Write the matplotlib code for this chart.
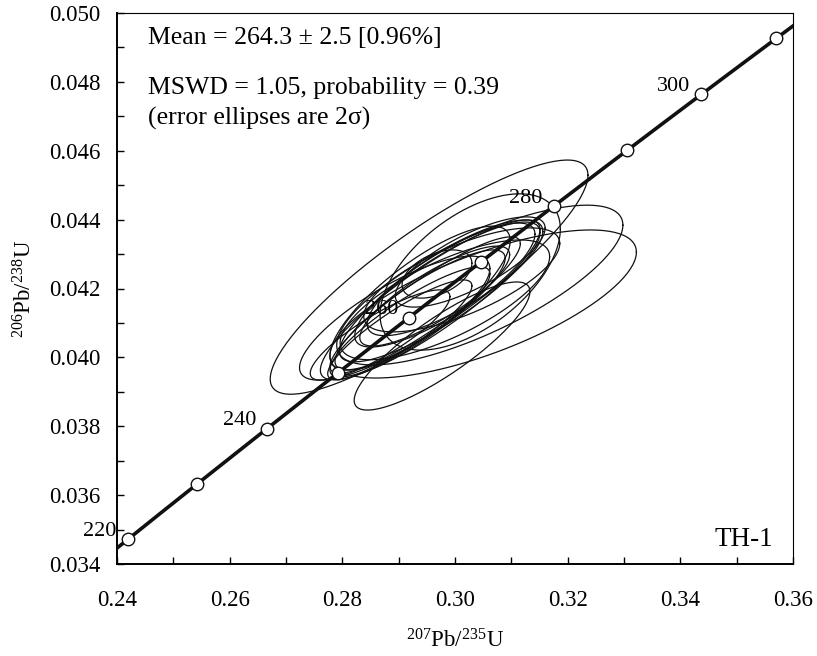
import numpy as np
import matplotlib
matplotlib.use('Agg')
import matplotlib.pyplot as plt
from matplotlib.ticker import MultipleLocator, FormatStrFormatter

plt.rcParams['font.family'] = ['Liberation Serif', 'DejaVu Serif']
plt.rcParams['mathtext.fontset'] = 'custom'
plt.rcParams['mathtext.rm'] = 'Liberation Serif'
plt.rcParams['mathtext.it'] = 'Liberation Serif:italic'

# ── Decay constants (Steiger & Jäger) ─────────────────────────────────────────
L238 = 1.55125e-10
L235 = 9.8485e-10

# ── Concordia age markers [Ma] ────────────────────────────────────────────────
marker_ages = [220, 230, 240, 250, 260, 270, 280, 290, 300, 310]
label_ages = [220, 240, 260, 280, 300]

# ── Spot analyses: 207Pb/235U, 206Pb/238U, 2-sigma errors, error correlation ─
x_ratio = [0.2954, 0.3050, 0.2977, 0.3044, 0.2956, 0.2973, 0.2947, 0.2982,
           0.2938, 0.3000, 0.2964, 0.2968, 0.2920, 0.3012, 0.2902, 0.2893,
           0.3027, 0.2982, 0.2938, 0.2867, 0.3027]
y_ratio = [0.04233, 0.04155, 0.04033, 0.04210, 0.04167, 0.04190, 0.04152, 0.04210,
           0.04138, 0.04231, 0.04178, 0.04242, 0.04103, 0.04225, 0.04080, 0.04114,
           0.04277, 0.04167, 0.04172, 0.04065, 0.04248]
x_err2s = [0.0282, 0.0272, 0.0156, 0.0254, 0.0195, 0.0178, 0.0169, 0.0160,
           0.0151, 0.0156, 0.0133, 0.0062, 0.0142, 0.0174, 0.0128, 0.0169,
           0.0133, 0.0186, 0.0160, 0.0124, 0.0160]
y_err2s = [0.00340, 0.00215, 0.00186, 0.00232, 0.00232, 0.00203, 0.00198, 0.00180,
           0.00174, 0.00168, 0.00145, 0.00070, 0.00160, 0.00151, 0.00145, 0.00180,
           0.00131, 0.00174, 0.00209, 0.00131, 0.00227]
rho = [0.87, 0.70, 0.85, 0.75, 0.88, 0.85, 0.90, 0.82,
       0.86, 0.80, 0.83, 0.45, 0.87, 0.70, 0.88, 0.80,
       0.75, 0.72, 0.80, 0.85, 0.55]


def concordia(t_ma):
    t = np.asarray(t_ma) * 1e6
    return np.exp(L235 * t) - 1, np.exp(L238 * t) - 1


fig = plt.figure(figsize=(8.17, 6.56), dpi=100)
ax = fig.add_axes([117 / 817, 1 - 564 / 656, 676 / 817, 551 / 656])

# error ellipses
th = np.linspace(0, 2 * np.pi, 200)
for cx, cy, sx, sy, r in zip(x_ratio, y_ratio, x_err2s, y_err2s, rho):
    ex = cx + sx * np.cos(th)
    ey = cy + sy * (r * np.cos(th) + np.sqrt(1 - r**2) * np.sin(th))
    ax.plot(ex, ey, color='#111111', lw=0.9, zorder=2)

# concordia curve
t_line = np.linspace(200, 330, 400)
cx_line, cy_line = concordia(t_line)
ax.plot(cx_line, cy_line, color='#111111', lw=2.6, zorder=3, solid_capstyle='round')

mx, my = concordia(marker_ages)
ax.plot(mx, my, 'o', ms=9, mfc='white', mec='#111111', mew=1.0, zorder=4,
        clip_on=False)

for age in label_ages:
    lx, ly = concordia(age)
    ax.annotate(str(age), (lx, ly), xytext=(-11, 8), textcoords='offset pixels',
                ha='right', va='center', fontsize=16, zorder=5,
                annotation_clip=False)

ax.set_xlim(0.24, 0.36)
ax.set_ylim(0.034, 0.050)

ax.xaxis.set_major_locator(MultipleLocator(0.02))
ax.xaxis.set_minor_locator(MultipleLocator(0.01))
ax.yaxis.set_major_locator(MultipleLocator(0.002))
ax.yaxis.set_minor_locator(MultipleLocator(0.001))
ax.xaxis.set_major_formatter(FormatStrFormatter('%.2f'))
ax.yaxis.set_major_formatter(FormatStrFormatter('%.3f'))

ax.tick_params(which='both', direction='in', length=5, width=1.0,
               top=False, right=False, labelsize=16.5)
ax.tick_params(axis='x', which='major', pad=19)
ax.tick_params(axis='y', which='major', pad=12)

for side in ['left', 'bottom']:
    ax.spines[side].set_linewidth(1.4)
for side in ['top', 'right']:
    ax.spines[side].set_linewidth(0.8)

ax.set_xlabel(r'$^{207}$Pb/$^{235}$U', fontsize=16.5)
ax.set_ylabel(r'$^{206}$Pb/$^{238}$U', fontsize=16.5)
ax.xaxis.set_label_coords(0.5, -0.118)
ax.yaxis.set_label_coords(-0.119, 0.5)

ax.text(0.046, 0.955, 'Mean = 264.3 ± 2.5 [0.96%]', transform=ax.transAxes,
        fontsize=18.5, ha='left', va='center')
ax.text(0.046, 0.864, 'MSWD = 1.05, probability = 0.39', transform=ax.transAxes,
        fontsize=18.5, ha='left', va='center')
ax.text(0.046, 0.809, '(error ellipses are 2σ)', transform=ax.transAxes,
        fontsize=18.5, ha='left', va='center')
ax.text(0.970, 0.044, 'TH-1', transform=ax.transAxes,
        fontsize=19.5, ha='right', va='center')

fig.savefig('out.png', dpi=100)
